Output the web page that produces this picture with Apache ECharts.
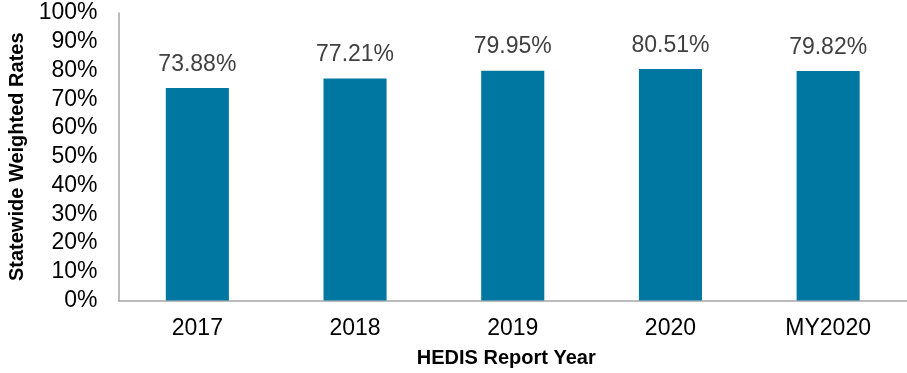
<!DOCTYPE html>
<html><head><meta charset="utf-8">
<script src="https://cdn.jsdelivr.net/npm/echarts@6/dist/echarts.min.js"></script>
<style>html,body{margin:0;padding:0;background:#fff}#c{width:907px;height:373px}</style>
</head><body><div id="c"></div>
<script>
var categories = ['2017', '2018', '2019', '2020', 'MY2020'];
var rates = [73.88, 77.21, 79.95, 80.51, 79.82];
var yTicks = [0, 10, 20, 30, 40, 50, 60, 70, 80, 90, 100];

var chart = echarts.init(document.getElementById('c'), null, {renderer: 'canvas'});
chart.setOption({
  animation: false,
  textStyle: {fontFamily: 'Liberation Sans, Arial, sans-serif'},
  grid: {left: 118.5, right: 0, top: 13, bottom: 72.5, containLabel: false, outerBoundsMode: 'none'},
  xAxis: {
    type: 'category', data: categories,
    name: 'HEDIS Report Year', nameLocation: 'middle', nameGap: 48,
    nameTextStyle: {fontSize: 20, fontWeight: 'bold', color: '#000', padding: [0, 0, 0, -13]},
    axisLine: {lineStyle: {color: '#A6A6A6', width: 1.5}},
    axisTick: {show: false},
    axisLabel: {fontSize: 23, color: '#000', margin: 17}
  },
  yAxis: {
    type: 'value', min: 0, max: 100, interval: 10,
    name: 'Statewide Weighted Rates', nameLocation: 'middle', nameGap: 89,
    nameTextStyle: {fontSize: 20, fontWeight: 'bold', color: '#000'},
    axisLine: {show: true, lineStyle: {color: '#A6A6A6', width: 1.5}},
    axisTick: {show: false},
    splitLine: {show: false},
    axisLabel: {fontSize: 23, color: '#000', margin: 21, formatter: function (v) { return yTicks.indexOf(v) >= 0 ? v + '%' : ''; }}
  },
  series: [{
    type: 'bar', data: rates, barWidth: '40%',
    itemStyle: {color: '#0077A0'},
    label: {show: true, position: 'top', distance: 12, fontSize: 23, color: '#404040',
      formatter: function (p) { return p.value.toFixed(2) + '%'; }}
  }]
});
</script></body></html>
